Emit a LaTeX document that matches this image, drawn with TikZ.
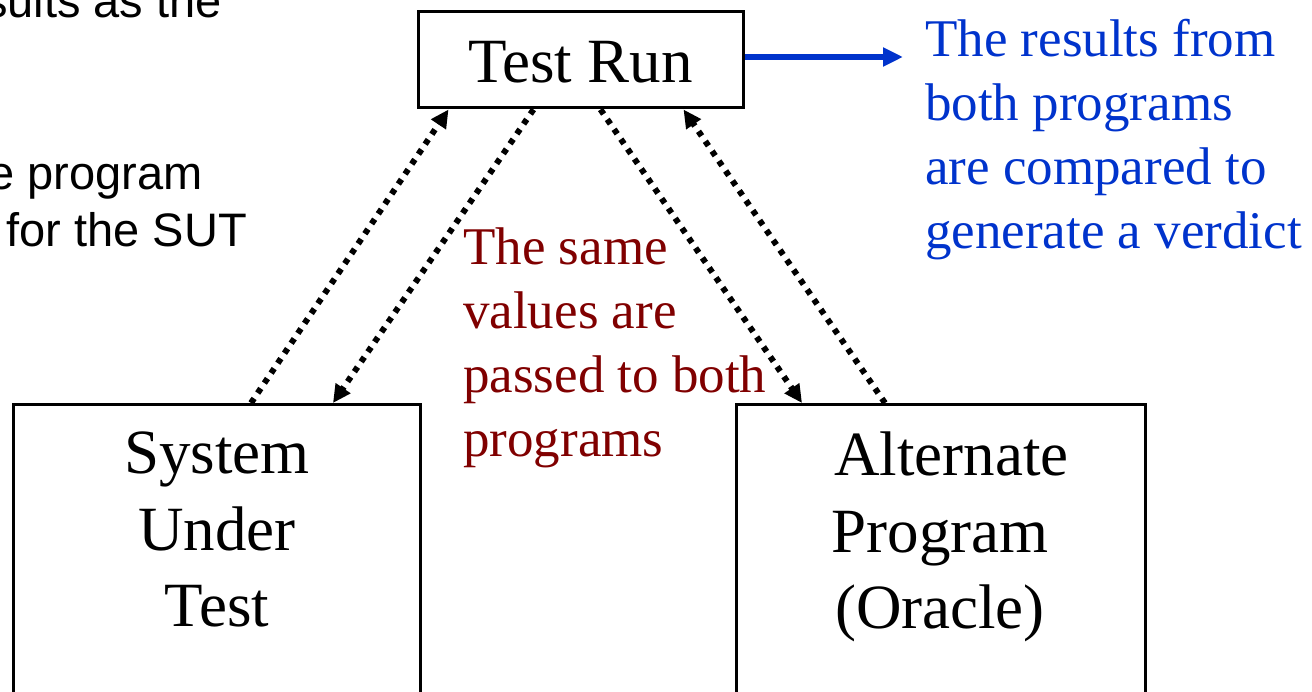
\documentclass[tikz,border=0pt]{standalone}
\usepackage{fontspec}
\setmainfont{Liberation Serif}
\newfontfamily\sansf{Liberation Sans}
\usetikzlibrary{arrows.meta}
\definecolor{vblue}{RGB}{0,51,204}
\definecolor{vred}{RGB}{128,0,0}
\begin{document}
\begin{tikzpicture}[x=1pt,y=-1pt,
  box/.style={draw, line width=3pt, inner sep=0pt, anchor=north west},
  big/.style={font=\fontsize{63}{76.5}\selectfont, inner sep=0pt, align=center, anchor=north},
  note/.style={font=\fontsize{53}{64}\selectfont, inner sep=0pt, align=left, anchor=north west},
  side/.style={font=\sansf\fontsize{47}{57}\selectfont, inner sep=0pt, anchor=base east},
  flow/.style={line width=6pt, dash pattern=on 5.5pt off 6.5pt, -{Triangle[length=18pt 0 0,width=17pt 0 0]}},
  result/.style={line width=5.5pt, vblue, -{Triangle[length=20pt 0 0,width=18pt 0 0]}},
]
\useasboundingbox (0,0) rectangle (1312,692);
\clip (0,0) rectangle (1312,692);

% partially visible text at the left edge
\node[side] (s1) at (222,18) {sults as the};
\node[side] (s2) at (203,190) {e program};
\node[side] (s3) at (247,247) {for the SUT};

% boxes
\node[draw, line width=3pt, inner sep=0pt, minimum width=325pt, minimum height=96pt,
      text height=46pt, font=\fontsize{63}{76.5}\selectfont] (tr) at (580.5,60) {Test Run};
\node[box, minimum width=407pt, minimum height=330pt] (sut) at (12,403) {};
\node[box, minimum width=409pt, minimum height=330pt] (alt) at (735,403) {};

% box texts
\node[big] (sutt) at (217,432) {System\\Under\\Test};
\node[big] (altt) at (940,432) {\hspace*{23pt}Alternate\\Program\\(Oracle)};

% notes
\node[note, text=vblue] (res) at (925,19) {The results from\\both programs\\are compared to\\generate a verdict};
\node[note, text=vred] (same) at (463,228) {The same\\values are\\passed to both\\programs};

% connectors
\draw[flow] ([xshift=239pt]sut.north west) -- ([xshift=32pt]tr.south west);
\draw[flow] ([xshift=117pt]tr.south west) -- ([xshift=321pt]sut.north west);
\draw[flow] ([xshift=184pt]tr.south west) -- ([xshift=67pt]alt.north west);
\draw[flow] ([xshift=150pt]alt.north west) -- ([xshift=267pt]tr.south west);

\coordinate (bluetip) at (903,57);
\draw[result] ([yshift=3pt]tr.east) -- (bluetip);
\end{tikzpicture}
\end{document}
